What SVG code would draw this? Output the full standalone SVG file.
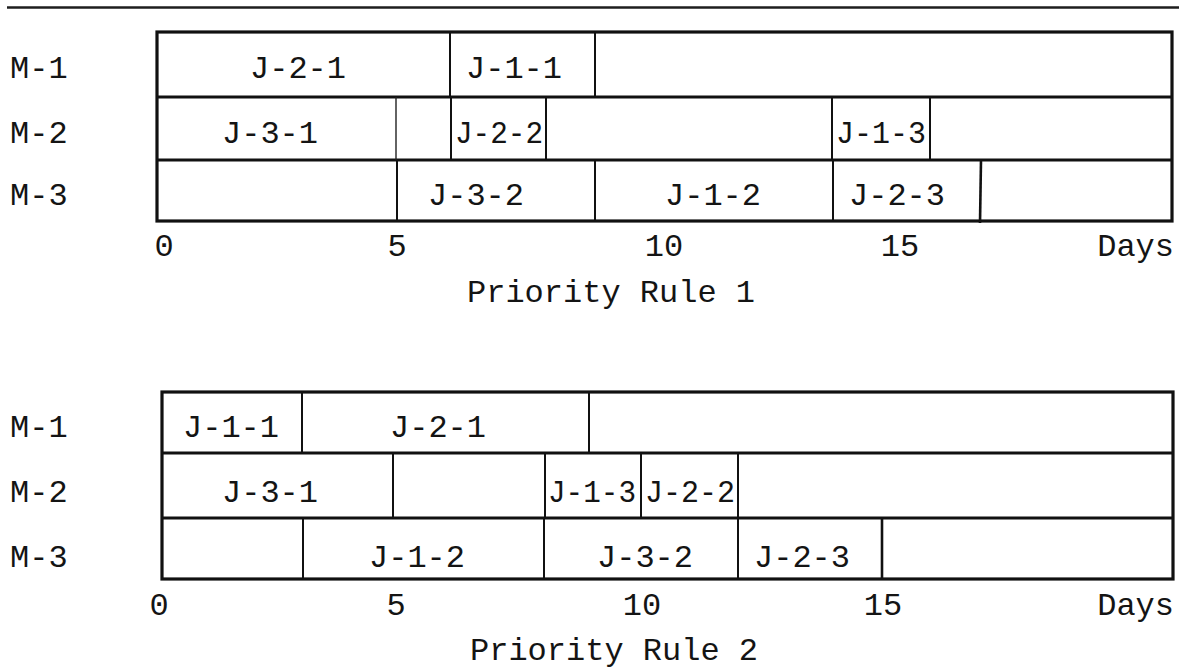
<svg xmlns="http://www.w3.org/2000/svg" width="1179" height="671" viewBox="0 0 1179 671">
  <style>
    .bg { fill: #ffffff; }
    .rule { stroke: #1e1e1e; stroke-width: 2.5; fill: none; }
    .frame { stroke: #111111; stroke-width: 3.2; fill: none; }
    .row { stroke: #111111; stroke-width: 2.8; }
    .div { stroke: #111111; stroke-width: 2; }
    .div-thin { stroke: #222222; stroke-width: 1.4; }
    text { font-family: "Liberation Mono", "DejaVu Sans Mono", monospace; font-size: 32px; fill: #141414; }
    .job { text-anchor: middle; }
    .tick { text-anchor: middle; }
    .title { text-anchor: middle; }
    .unit { text-anchor: end; }
  </style>

  <rect class="bg" x="0" y="0" width="1179" height="671"/>

  <!-- rule across the top of the page -->
  <line class="rule" x1="7" y1="7.5" x2="1179" y2="7.5"/>

  <!-- ===== Schedule under priority rule 1 ===== -->
  <g id="rule1">
    <g id="rule1-grid">
      <rect class="frame" x="157" y="32" width="1015" height="189"/>
      <line class="row" x1="157" y1="97" x2="1172" y2="97"/>
      <line class="row" x1="157" y1="160" x2="1172" y2="160"/>
      <!-- M-1 boundaries -->
      <line class="div" x1="450" y1="32" x2="450" y2="97"/>
      <line class="div" x1="595" y1="32" x2="595" y2="97"/>
      <!-- M-2 boundaries -->
      <line class="div-thin" x1="396" y1="97" x2="396" y2="160"/>
      <line class="div" x1="451" y1="97" x2="451" y2="160"/>
      <line class="div" x1="546" y1="97" x2="546" y2="160"/>
      <line class="div" x1="832" y1="97" x2="832" y2="160"/>
      <line class="div" x1="930" y1="97" x2="930" y2="160"/>
      <!-- M-3 boundaries -->
      <line class="div" x1="397" y1="160" x2="397" y2="221"/>
      <line class="div" x1="595" y1="160" x2="595" y2="221"/>
      <line class="div" x1="833" y1="160" x2="833" y2="221"/>
      <line class="div" x1="981" y1="160" x2="980" y2="223" style="stroke-width:2.6"/>
    </g>

    <g id="rule1-machines">
      <text x="10" y="78">M-1</text>
      <text x="10" y="143">M-2</text>
      <text x="10" y="205">M-3</text>
    </g>

    <g id="r1-m1-j21"><text class="job" x="298" y="78">J-2-1</text></g>
    <g id="r1-m1-j11"><text class="job" x="514" y="78">J-1-1</text></g>

    <g id="r1-m2-j31"><text class="job" x="270" y="143">J-3-1</text></g>
    <g id="r1-m2-j22"><text class="job" x="499" y="143" textLength="88" lengthAdjust="spacingAndGlyphs">J-2-2</text></g>
    <g id="r1-m2-j13"><text class="job" x="881" y="143" textLength="90" lengthAdjust="spacingAndGlyphs">J-1-3</text></g>

    <g id="r1-m3-j32"><text class="job" x="476" y="205">J-3-2</text></g>
    <g id="r1-m3-j12"><text class="job" x="713" y="205">J-1-2</text></g>
    <g id="r1-m3-j23"><text class="job" x="897" y="205">J-2-3</text></g>

    <g id="rule1-axis">
      <text class="tick" x="164" y="256">0</text>
      <text class="tick" x="397" y="256">5</text>
      <text class="tick" x="664" y="256">10</text>
      <text class="tick" x="900" y="256">15</text>
      <text class="unit" x="1174" y="256">Days</text>
    </g>
    <text id="rule1-title" class="title" x="611" y="302">Priority Rule 1</text>
  </g>

  <!-- ===== Schedule under priority rule 2 ===== -->
  <g id="rule2">
    <g id="rule2-grid">
      <rect class="frame" x="162" y="392" width="1011" height="187"/>
      <line class="row" x1="162" y1="453" x2="1173" y2="453"/>
      <line class="row" x1="162" y1="518" x2="1173" y2="518"/>
      <!-- M-1 boundaries -->
      <line class="div" x1="302" y1="392" x2="302" y2="453"/>
      <line class="div" x1="589" y1="392" x2="589" y2="453"/>
      <!-- M-2 boundaries -->
      <line class="div" x1="393" y1="453" x2="393" y2="518"/>
      <line class="div" x1="545" y1="453" x2="545" y2="518"/>
      <line class="div" x1="641" y1="453" x2="641" y2="518"/>
      <line class="div" x1="738" y1="453" x2="738" y2="518"/>
      <!-- M-3 boundaries -->
      <line class="div" x1="303" y1="518" x2="303" y2="579"/>
      <line class="div" x1="544" y1="518" x2="544" y2="579"/>
      <line class="div" x1="738" y1="518" x2="738" y2="579"/>
      <line class="div" x1="882" y1="518" x2="882" y2="579" style="stroke-width:2.6"/>
    </g>

    <g id="rule2-machines">
      <text x="10" y="437">M-1</text>
      <text x="10" y="502">M-2</text>
      <text x="10" y="567">M-3</text>
    </g>

    <g id="r2-m1-j11"><text class="job" x="231" y="437">J-1-1</text></g>
    <g id="r2-m1-j21"><text class="job" x="438" y="437">J-2-1</text></g>

    <g id="r2-m2-j31"><text class="job" x="270" y="502">J-3-1</text></g>
    <g id="r2-m2-j13"><text class="job" x="592" y="502" textLength="88" lengthAdjust="spacingAndGlyphs">J-1-3</text></g>
    <g id="r2-m2-j22"><text class="job" x="690" y="502" textLength="90" lengthAdjust="spacingAndGlyphs">J-2-2</text></g>

    <g id="r2-m3-j12"><text class="job" x="417" y="567">J-1-2</text></g>
    <g id="r2-m3-j32"><text class="job" x="645" y="567">J-3-2</text></g>
    <g id="r2-m3-j23"><text class="job" x="802" y="567">J-2-3</text></g>

    <g id="rule2-axis">
      <text class="tick" x="159" y="615">0</text>
      <text class="tick" x="396" y="615">5</text>
      <text class="tick" x="642" y="615">10</text>
      <text class="tick" x="883" y="615">15</text>
      <text class="unit" x="1174" y="615">Days</text>
    </g>
    <text id="rule2-title" class="title" x="614" y="660">Priority Rule 2</text>
  </g>

  <!-- connector layer: the schedules use no connecting lines -->
  <g id="connectors"/>
</svg>
